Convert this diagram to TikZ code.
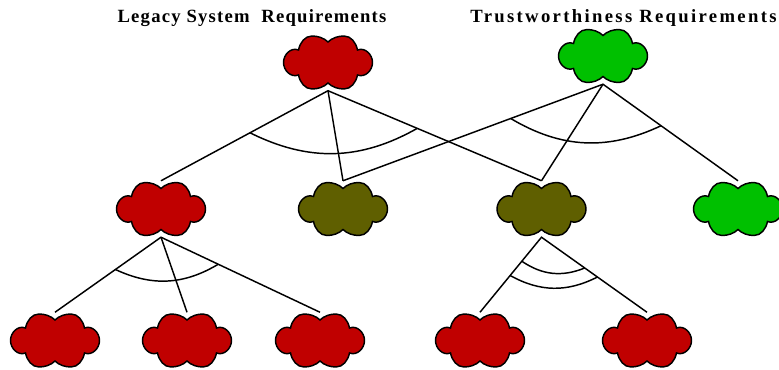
\documentclass[tikz,border=0pt]{standalone}
\usepackage{fontspec}
\setmainfont{Liberation Serif}
\usetikzlibrary{calc}
\definecolor{legacyred}{RGB}{192, 0, 0}
\definecolor{trustgreen}{RGB}{0, 192, 0}
\definecolor{mixedolive}{RGB}{95, 95, 0}

% cloud outline around the origin, one unit is one pixel of the picture
\newcommand{\cloudpath}{
  (0,-20.5) .. controls (-4,-24.5) and (-10,-26.5) .. (-16,-26.5)
  .. controls (-23,-26.5) and (-28,-20) .. (-29.5,-12.5)
  .. controls (-37,-15.5) and (-44.5,-8) .. (-44.5,0)
  .. controls (-44.5,8) and (-37,15.5) .. (-29.5,12.5)
  .. controls (-28,20) and (-23,26.5) .. (-16,26.5)
  .. controls (-10,26.5) and (-4,24.5) .. (0,20.5)
  .. controls (4,24.5) and (10,26.5) .. (16,26.5)
  .. controls (23,26.5) and (28,20) .. (29.5,12.5)
  .. controls (37,15.5) and (44.5,8) .. (44.5,0)
  .. controls (44.5,-8) and (37,-15.5) .. (29.5,-12.5)
  .. controls (28,-20) and (23,-26.5) .. (16,-26.5)
  .. controls (10,-26.5) and (4,-24.5) .. (0,-20.5) -- cycle}

% name, position, colour
\newcommand{\reqcloud}[3]{
  \node[reqnode] (#1) at (#2) {};
  \draw[reqoutline, fill=#3, shift={(#1.center)}] \cloudpath;
}

\begin{document}
\begin{tikzpicture}[
  x=0.75pt,
  y=-0.75pt,
  line width=1.1pt,
  reqnode/.style={
    minimum width=67.5pt,
    minimum height=41.25pt,
    inner sep=0pt,
  },
  reqoutline/.style={
    draw=black,
    line width=1.1pt,
  },
  heading/.style={
    font=\fontsize{14}{16}\selectfont\bfseries,
    inner sep=0pt,
    anchor=base,
  },
  link/.style={
    draw=black,
  }
]
  \useasboundingbox (0,0) rectangle (779,370);

  % Headings
  \node[heading] (legacy-title) at (252,23) {\addfontfeature{LetterSpace=6.5}Legacy System\ \ Requirements};
  \node[heading] (trust-title) at (623.5,23) {\addfontfeature{LetterSpace=12.5}Trustworthiness Requirements};

  % Top row
  \reqcloud{legacy}{328,62.5}{legacyred}
  \reqcloud{trust}{603,56}{trustgreen}

  % Middle row
  \reqcloud{mid-a}{161,209}{legacyred}
  \reqcloud{mid-b}{343,209}{mixedolive}
  \reqcloud{mid-c}{541.5,209}{mixedolive}
  \reqcloud{mid-d}{738,209}{trustgreen}

  % Bottom row
  \reqcloud{low-a}{55,340.5}{legacyred}
  \reqcloud{low-b}{187,340.5}{legacyred}
  \reqcloud{low-c}{320,340.5}{legacyred}
  \reqcloud{low-d}{480,340.5}{legacyred}
  \reqcloud{low-e}{647,340.5}{legacyred}

  % Links
  \draw[link] (mid-a.north) -- (legacy.south) -- (mid-c.north);
  \draw[link] (legacy.south) -- (mid-b.north);
  \draw[link] (mid-b.north) -- (trust.south) -- (mid-d.north);
  \draw[link] (trust.south) -- (mid-c.north);
  \draw[link] (low-a.north) -- (mid-a.south) -- (low-c.north);
  \draw[link] (mid-a.south) -- (low-b.north);
  \draw[link] (low-d.north) -- (mid-c.south) -- (low-e.north);

  % Decomposition arcs
  \draw[link] ($(legacy.south)!0.467!(mid-a.north)$) to[bend right=28] ($(legacy.south)!0.418!(mid-c.north)$);
  \draw[link] ($(trust.south)!0.355!(mid-b.north)$) to[bend right=28] ($(trust.south)!0.43!(mid-d.north)$);
  \draw[link] ($(mid-a.south)!0.43!(low-a.north)$) to[bend right=28] ($(mid-a.south)!0.36!(low-c.north)$);
  \draw[link] ($(mid-c.south)!0.32!(low-d.north)$) to[bend right=28] ($(mid-c.south)!0.41!(low-e.north)$);
  \draw[link] ($(mid-c.south)!0.51!(low-d.north)$) to[bend right=28] ($(mid-c.south)!0.53!(low-e.north)$);
\end{tikzpicture}
\end{document}
